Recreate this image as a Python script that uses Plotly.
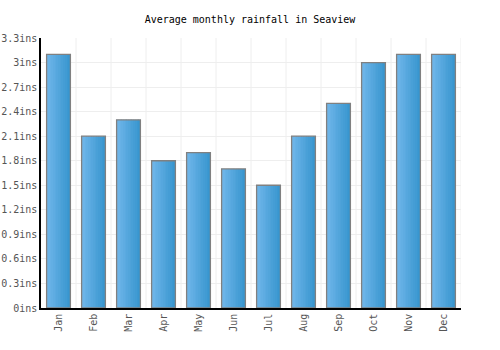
import plotly.graph_objects as go

months = ["Jan", "Feb", "Mar", "Apr", "May", "Jun", "Jul", "Aug", "Sep", "Oct", "Nov", "Dec"]
rainfall = [3.1, 2.1, 2.3, 1.8, 1.9, 1.7, 1.5, 2.1, 2.5, 3.0, 3.1, 3.1]
tick_vals = [0, 0.3, 0.6, 0.9, 1.2, 1.5, 1.8, 2.1, 2.4, 2.7, 3.0, 3.3]
tick_text = ["0ins", "0.3ins", "0.6ins", "0.9ins", "1.2ins", "1.5ins", "1.8ins",
             "2.1ins", "2.4ins", "2.7ins", "3ins", "3.3ins"]

FONT = "DejaVu Sans Mono"
bar_w = 0.68
n_slices = 14
c0 = (0x70, 0xb6, 0xea)
c1 = (0x38, 0x96, 0xcf)

fig = go.Figure()
xs = list(range(len(months)))
for i in range(n_slices):
    t = i / (n_slices - 1)
    col = "rgb(%d,%d,%d)" % tuple(round(a + (b - a) * t) for a, b in zip(c0, c1))
    sw = bar_w / n_slices
    fig.add_trace(go.Bar(
        x=xs, y=rainfall, width=sw * 1.05, offset=-bar_w / 2 + i * sw,
        marker=dict(color=col, line=dict(width=0)),
        hoverinfo="skip", showlegend=False))
fig.add_trace(go.Bar(
    x=xs, y=rainfall, width=bar_w,
    marker=dict(color="rgba(0,0,0,0)", line=dict(color="#808080", width=1.3)),
    showlegend=False))

fig.update_layout(
    width=500, height=350,
    margin=dict(l=41, r=39, t=38, b=42),
    paper_bgcolor="white", plot_bgcolor="white",
    barmode="overlay",
    title=dict(text="Average monthly rainfall in Seaview", x=0.5, xanchor="center",
               y=1 - 19 / 350, yanchor="middle",
               font=dict(family=FONT, size=10, color="#000")),
    font=dict(family=FONT, size=10, color="#555"),
)
fig.update_xaxes(
    tickmode="array", tickvals=xs, ticktext=months, tickangle=-90,
    range=[-0.5, 11.5], showgrid=False, automargin=False,
    showline=True, linecolor="#000", linewidth=1.5,
    ticks="", tickfont=dict(family=FONT, size=10, color="#555"),
)
# vertical grid lines between categories
for k in range(1, 13):
    fig.add_shape(type="line", xref="x", yref="paper", x0=k - 0.5, x1=k - 0.5, y0=0, y1=1,
                  line=dict(color="#eeeeee", width=1), layer="below")
fig.update_yaxes(
    tickmode="array", tickvals=tick_vals, ticktext=tick_text,
    range=[0, 3.3], showgrid=True, gridcolor="#eeeeee", gridwidth=1,
    showline=True, linecolor="#000", linewidth=1.5, zeroline=False, automargin=False,
    ticks="", tickfont=dict(family=FONT, size=10, color="#555"),
)
fig.write_html("out.html")
